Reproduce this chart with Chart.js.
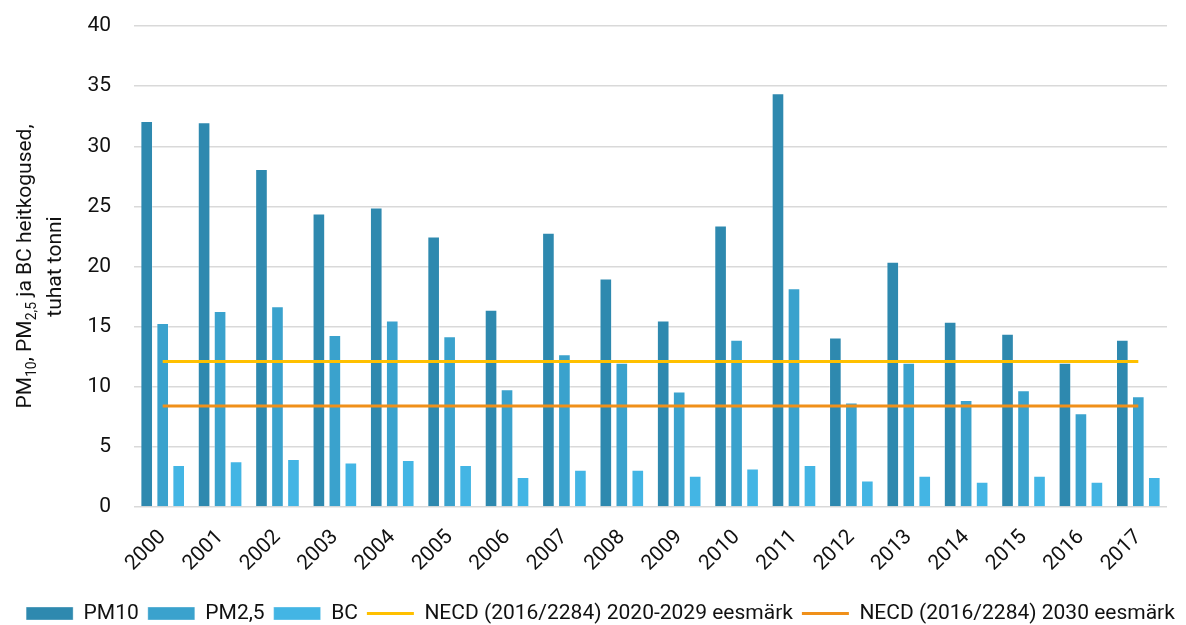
<!DOCTYPE html>
<html>
<head>
<meta charset="utf-8">
<script src="https://cdn.jsdelivr.net/npm/chart.js@4/dist/chart.umd.min.js"></script>
<style>
  html, body { margin: 0; padding: 0; background: #ffffff; }
  #wrap { width: 1186px; height: 625px; position: relative; }
</style>
</head>
<body>
<div id="wrap"><canvas id="c"></canvas></div>
<script>
const years = ['2000','2001','2002','2003','2004','2005','2006','2007','2008','2009','2010','2011','2012','2013','2014','2015','2016','2017'];
const pm10 = [32.1, 32.0, 28.1, 24.4, 24.9, 22.5, 16.4, 22.8, 19.0, 15.5, 23.4, 34.4, 14.1, 20.4, 15.4, 14.4, 12.0, 13.9];
const pm25 = [15.3, 16.3, 16.7, 14.3, 15.5, 14.2, 9.8, 12.7, 12.0, 9.6, 13.9, 18.2, 8.7, 12.0, 8.9, 9.7, 7.8, 9.2];
const bc   = [3.5, 3.8, 4.0, 3.7, 3.9, 3.5, 2.5, 3.1, 3.1, 2.6, 3.2, 3.5, 2.2, 2.6, 2.1, 2.6, 2.1, 2.5];
const necd2020 = [12.1, 12.1, 12.1, 12.1, 12.1, 12.1, 12.1, 12.1, 12.1, 12.1, 12.1, 12.1, 12.1, 12.1, 12.1, 12.1, 12.1, 12.1];
const necd2030 = [8.4, 8.4, 8.4, 8.4, 8.4, 8.4, 8.4, 8.4, 8.4, 8.4, 8.4, 8.4, 8.4, 8.4, 8.4, 8.4, 8.4, 8.4];
const seriesNames = ['PM10', 'PM2,5', 'BC', 'NECD (2016/2284) 2020-2029 eesmärk', 'NECD (2016/2284) 2030 eesmärk'];
const yTicks = [0, 5, 10, 15, 20, 25, 30, 35, 40];
// y-axis title pieces: [text, isSubscript]
const titleLine1 = [['PM', false], ['10', true], [', PM', false], ['2,5', true], [' ja BC heitkogused,', false]];
const titleLine2 = [['tuhat tonni', false]];

const FONT = "Roboto, 'Noto Sans', sans-serif";
const TXT = '#111111';

const yTitlePlugin = {
  id: 'yTitle',
  afterDraw(chart) {
    const ctx = chart.ctx;
    const area = chart.chartArea;
    const cy = (area.top + area.bottom) / 2;
    const mainFont = '21px ' + FONT;
    const subFont = '14px ' + FONT;
    function drawLine(parts, baseX) {
      ctx.save();
      ctx.translate(baseX, cy);
      ctx.rotate(-Math.PI / 2);
      ctx.fillStyle = TXT;
      ctx.textBaseline = 'alphabetic';
      ctx.textAlign = 'left';
      let total = 0;
      parts.forEach(p => { ctx.font = p[1] ? subFont : mainFont; total += ctx.measureText(p[0]).width; });
      let x = -total / 2;
      parts.forEach(p => {
        ctx.font = p[1] ? subFont : mainFont;
        ctx.fillText(p[0], x, p[1] ? 5 : 0);
        x += ctx.measureText(p[0]).width;
      });
      ctx.restore();
    }
    drawLine(titleLine1, 31);
    drawLine(titleLine2, 61);
  }
};

const barCommon = {
  type: 'bar',
  borderWidth: 1,
  borderColor: 'rgba(255,255,255,0.35)',
  categoryPercentage: 0.836,
  barPercentage: 0.79,
  pointStyle: 'rect',
  order: 1
};

new Chart(document.getElementById('c'), {
  data: {
    labels: years,
    datasets: [
      Object.assign({}, barCommon, { label: seriesNames[0], data: pm10, backgroundColor: '#2E89AF' }),
      Object.assign({}, barCommon, { label: seriesNames[1], data: pm25, backgroundColor: '#3AA2CD' }),
      Object.assign({}, barCommon, { label: seriesNames[2], data: bc, backgroundColor: '#43B5E4' }),
      { type: 'line', label: seriesNames[3], data: necd2020, borderColor: '#FFC000', backgroundColor: '#FFC000',
        borderWidth: 3, pointRadius: 0, pointHoverRadius: 0, pointStyle: 'line', fill: false, order: 0 },
      { type: 'line', label: seriesNames[4], data: necd2030, borderColor: '#F0901A', backgroundColor: '#F0901A',
        borderWidth: 3, pointRadius: 0, pointHoverRadius: 0, pointStyle: 'line', fill: false, order: 0 }
    ]
  },
  options: {
    responsive: true,
    maintainAspectRatio: false,
    animation: false,
    devicePixelRatio: 1,
    layout: { padding: { left: 15, right: 0, top: 26, bottom: -9 } },
    scales: {
      x: {
        grid: { display: false, drawTicks: false },
        border: { display: false },
        ticks: { color: TXT, font: { family: FONT, size: 21 }, minRotation: 45, maxRotation: 45, padding: 18 },
        afterFit(s) { s.height = 87; }
      },
      y: {
        position: 'left',
        min: 0, max: 40,
        grid: { color: '#D9D9D9', lineWidth: 1.5, drawTicks: false },
        border: { display: false },
        ticks: {
          color: TXT, font: { family: FONT, size: 21 }, padding: 23, stepSize: 5,
          callback: (v) => yTicks.includes(v) ? String(v) : ''
        },
        afterFit(s) { s.width = 119; s.paddingTop = 13; s.paddingBottom = 13; }
      },
      yR: {
        position: 'right',
        display: true,
        grid: { display: false, drawTicks: false },
        border: { display: false },
        ticks: { display: false },
        afterFit(s) { s.width = 19; s.paddingTop = 0; s.paddingBottom = 0; }
      }
    },
    plugins: {
      legend: {
        position: 'bottom',
        labels: {
          usePointStyle: true,
          pointStyleWidth: 47,
          boxHeight: 13,
          padding: 9,
          color: TXT,
          font: { family: FONT, size: 21 },
          sort: (a, b) => a.datasetIndex - b.datasetIndex
        }
      },
      tooltip: { enabled: false }
    }
  },
  plugins: [yTitlePlugin]
});
</script>
</body>
</html>
